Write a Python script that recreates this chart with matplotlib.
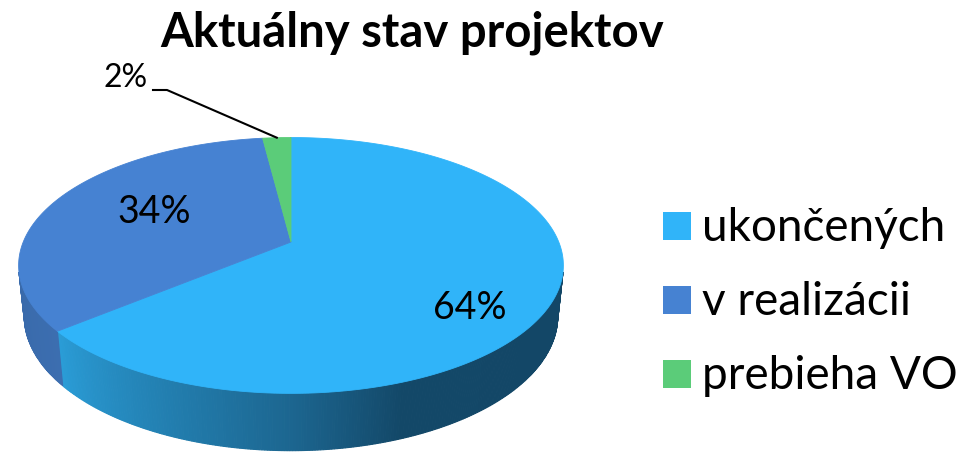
import numpy as np
import matplotlib
matplotlib.use("Agg")
import matplotlib.pyplot as plt
from matplotlib.patches import Polygon, Rectangle

# chart data
labels = ["ukončených", "v realizácii", "prebieha VO"]
values = [64, 34, 2]
title = "Aktuálny stav projektov"

top_colors = ["#30b4f9", "#4682d2", "#5bcc79"]

# camera / pie geometry (pixel space)
elev = np.radians(27.5)
dist = 4.84
focal = 1296
depth_h = 0.215
cx, cy = 291, 243


def proj(theta, z=0.0):
    x = np.cos(theta)
    y = np.sin(theta)
    d = y * np.cos(elev) - z * np.sin(elev) + dist
    sx = x * focal / d
    sy = (y * np.sin(elev) + z * np.cos(elev)) * focal / d
    return cx + sx, cy - sy


def side_color(i, th):
    # shading of the outer wall, depends on angle
    th = np.degrees(th)
    while th > 0:
        th -= 360
    if i == 0:
        xs = [-150, -140, -90, -70, 0]
        cs = np.array([[44, 160, 218], [42, 156, 214], [28, 102, 144], [19, 72, 104], [19, 70, 102]]) / 255
    elif i == 1:
        xs = [-180, -140]
        cs = np.array([[56, 104, 168], [60, 110, 176]]) / 255
    else:
        xs = [-180, 0]
        cs = np.array([[70, 160, 95], [70, 160, 95]]) / 255
    return tuple(np.interp(th, xs, cs[:, k]) for k in range(3))


fig = plt.figure(figsize=(9.58, 4.56), dpi=100)
ax = fig.add_axes([0, 0, 1, 1])
ax.set_xlim(0, 958)
ax.set_ylim(456, 0)
ax.axis("off")

total = float(sum(values))
start = np.pi / 2
limit = -1.0 / (dist * np.cos(elev))
bounds = []
for i, v in enumerate(values):
    end = start - 2 * np.pi * v / total
    bounds.append((start, end))
    start = end

# outer walls
for i, (a0, a1) in enumerate(bounds):
    ths = np.linspace(a0, a1, max(int(abs(a1 - a0) / np.radians(0.5)), 2))
    for t0, t1 in zip(ths[:-1], ths[1:]):
        tm = 0.5 * (t0 + t1)
        if np.sin(tm) >= limit:
            continue
        p = [proj(t0), proj(t1), proj(t1, -depth_h), proj(t0, -depth_h)]
        c = side_color(i, tm)
        ax.add_patch(Polygon(p, closed=True, facecolor=c, edgecolor=c, lw=0.8))

# top face
for i, (a0, a1) in enumerate(bounds):
    ths = np.linspace(a0, a1, 200)
    pts = [(cx, cy)] + [proj(t) for t in ths]
    ax.add_patch(Polygon(pts, closed=True, facecolor=top_colors[i],
                         edgecolor=top_colors[i], lw=0.6))

lab_font = "Lato"
ax.text(507, 308, f"{values[0]}%", fontsize=27, family=lab_font,
        ha="right", va="center", color="black")
ax.text(154, 212, f"{values[1]}%", fontsize=27, family=lab_font,
        ha="center", va="center", color="black")
ax.text(148, 78, f"{values[2]}%", fontsize=23, family=lab_font,
        ha="right", va="center", color="black")
gx, gy = proj(0.5 * (bounds[2][0] + bounds[2][1]))
ax.plot([153, 167, gx], [91, 91, gy], color="black", lw=1.5)

ax.text(412, 33, title, fontsize=34, fontweight="bold", family="Lato",
        ha="center", va="center", color="black")

for i, lab in enumerate(labels):
    y = 227 + 74 * i
    ax.add_patch(Rectangle((663, y - 14), 28, 28, facecolor=top_colors[i], edgecolor="none"))
    ax.text(702, y + 1, lab, fontsize=33, family="Lato", ha="left", va="center", color="black")

fig.savefig("out.png", dpi=100, facecolor="white")
